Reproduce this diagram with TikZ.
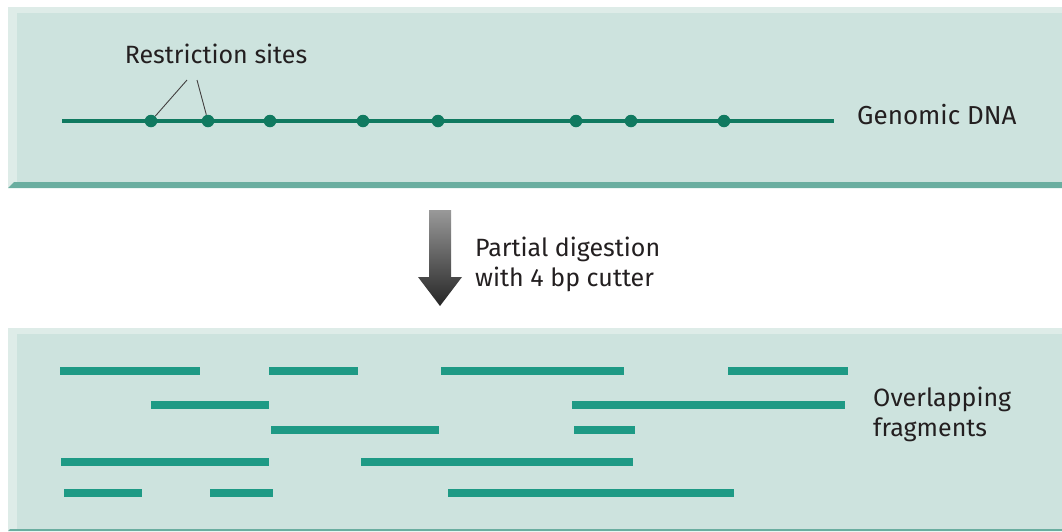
\documentclass[tikz,border=0pt]{standalone}
\usepackage{fontspec}
\setmainfont{Fira Sans}
\usetikzlibrary{positioning}
\definecolor{panelfill}{RGB}{205,227,222}
\definecolor{panelhi}{RGB}{222,236,232}
\definecolor{panelshade}{RGB}{106,174,160}
\definecolor{dnagreen}{RGB}{16,122,96}
\definecolor{fraggreen}{RGB}{30,154,133}
\definecolor{ink}{RGB}{35,31,32}

\begin{document}
\begin{tikzpicture}[x=1pt, y=-1pt, every node/.style={font=\fontsize{25}{30}\selectfont, text=ink, inner sep=0pt},
  site/.style={circle, fill=dnagreen, minimum size=12.5pt, inner sep=0pt},
  dnaline/.style={draw=dnagreen, line width=4.5pt},
  frag/.style={draw=fraggreen, line width=8.5pt},
  ptr/.style={draw=ink!85, line width=0.9pt},
  lbl/.style={align=left, anchor=west}]
\useasboundingbox (0,0) rectangle (1062,531);
% top panel
\fill[panelhi] (8,7) rectangle (1062,188);
\fill[panelfill] (17,13) rectangle (1062,182);
\fill[panelshade] (8,188) -- (14,182) -- (1062,182) -- (1062,188) -- cycle;
% genomic DNA with restriction sites
\coordinate (dnaL) at (62,121); \coordinate (dnaR) at (834,121);
\draw[dnaline] (dnaL) -- (dnaR);
\node[site] (s1) at (151,121) {}; \node[site] (s2) at (208,121) {};
\node[site] (s3) at (270,121) {}; \node[site] (s4) at (363,121) {};
\node[site] (s5) at (438,121) {}; \node[site] (s6) at (576,121) {};
\node[site] (s7) at (631,121) {}; \node[site] (s8) at (724,121) {};
\node[anchor=base] (sites) at (216,63) {Restriction sites};
\coordinate (p1) at (187,80); \coordinate (p2) at (197,80);
\draw[ptr] (p1) -- (s1); \draw[ptr] (p2) -- (s2);
\node[anchor=base west, font=\fontsize{26}{30}\selectfont] (gdna) at (857,124) {Genomic DNA};
% digestion arrow
\shade[top color=black!40, bottom color=black!85] (429,210) -- (451,210) -- (451,277) -- (462,277) -- (440,306) -- (418,277) -- (429,277) -- cycle;
\node[lbl] (digest) at (475,264) {Partial digestion\\with 4 bp cutter};
% bottom panel
\fill[panelhi] (8,328) rectangle (1062,531);
\fill[panelfill] (17,334) rectangle (1062,529);
\fill[panelshade] (8,531) -- (10,529) -- (1062,529) -- (1062,531) -- cycle;
% fragments
\draw[frag] (60,371) -- (200,371); \draw[frag] (269,371) -- (358,371); \draw[frag] (441,371) -- (624,371); \draw[frag] (728,371) -- (848,371);
\draw[frag] (151,405) -- (269,405); \draw[frag] (572,405) -- (845,405);
\draw[frag] (271,430) -- (439,430); \draw[frag] (574,430) -- (635,430);
\draw[frag] (61,462) -- (269,462); \draw[frag] (361,462) -- (633,462);
\draw[frag] (64,493) -- (142,493); \draw[frag] (210,493) -- (273,493); \draw[frag] (448,493) -- (734,493);
\node[lbl] (overlap) at (873,414) {Overlapping\\fragments};
\end{tikzpicture}
\end{document}
